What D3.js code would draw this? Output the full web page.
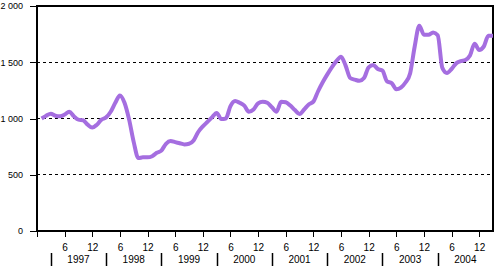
<!DOCTYPE html>
<html>
<head>
<meta charset="utf-8">
<script src="https://d3js.org/d3.v7.min.js"></script>
<style>
  body { margin: 0; background: #fff; }
  svg text { font-family: Arial, "Liberation Sans", sans-serif; font-size: 10px; fill: #000; }
  .axis path, .axis line { stroke: #000; shape-rendering: crispEdges; }
  .yaxis text { font-size: 9px; }
</style>
</head>
<body>
<svg id="chart"></svg>
<script>
// month index: 1 = Jan 1997 ... 99 = Mar 2005
var months = d3.range(1, 100);
var values = [
  1000, 1025, 1043, 1025, 1020, 1035, 1060, 1020, 990, 985, 945, 920,
  945, 990, 1010, 1060, 1140, 1205, 1140, 990, 790, 648, 655, 655,
  665, 695, 715, 775, 800, 790, 780, 770, 775, 805, 880, 930,
  970, 1010, 1050, 995, 1000, 1110, 1155, 1140, 1115, 1060, 1080, 1135,
  1150, 1140, 1100, 1060, 1150, 1145, 1115, 1075, 1040, 1080, 1125, 1150,
  1240, 1320, 1390, 1455, 1510, 1550, 1470, 1360, 1345, 1335, 1360, 1455,
  1475, 1440, 1425, 1330, 1315, 1260, 1275, 1320, 1400, 1640, 1825, 1745,
  1745, 1765, 1740, 1450, 1405, 1440, 1490, 1510, 1520, 1560, 1665, 1610,
  1640, 1735, 1735
];
var years = ["1997", "1998", "1999", "2000", "2001", "2002", "2003", "2004"];
var yTicks = [0, 500, 1000, 1500, 2000];
var gridValues = [500, 1000, 1500];
var xTicks = d3.range(0, 97, 6);

var W = 495, H = 266;
var pLeft = 37, pRight = 493, pTop = 6, pBottom = 231;

var x = d3.scaleLinear().domain([0, 99]).range([pLeft, pRight]);
var y = d3.scaleLinear().domain([0, 2000]).range([pBottom, pTop]);

var loc = d3.formatLocale({decimal: ",", thousands: " ", grouping: [3], currency: ["", ""]});
var fmt = loc.format(",");

var svg = d3.select("#chart").attr("width", W).attr("height", H);

// dashed gridlines
svg.selectAll(".grid")
   .data(gridValues)
   .enter().append("line")
   .attr("class", "grid")
   .attr("x1", pLeft).attr("x2", pRight)
   .attr("y1", function(d) { return y(d); })
   .attr("y2", function(d) { return y(d); })
   .attr("stroke", "#000")
   .attr("stroke-dasharray", "3,3")
   .style("shape-rendering", "crispEdges");

// frame
svg.append("rect")
   .attr("x", pLeft).attr("y", pTop)
   .attr("width", pRight - pLeft).attr("height", pBottom - pTop)
   .attr("fill", "none").attr("stroke", "#000").attr("stroke-width", 1.5)
   .style("shape-rendering", "crispEdges");

// y axis
var yAxis = svg.append("g")
   .attr("class", "axis yaxis")
   .attr("transform", "translate(" + pLeft + ",0)")
   .call(d3.axisLeft(y).tickValues(yTicks).tickSize(7).tickSizeOuter(0).tickPadding(7).tickFormat(fmt));
yAxis.select(".domain").remove();

// x axis
var xAxis = svg.append("g")
   .attr("class", "axis")
   .attr("transform", "translate(0," + pBottom + ")")
   .call(d3.axisBottom(x).tickValues(xTicks).tickSize(6).tickSizeOuter(0).tickPadding(7)
     .tickFormat(function(m) { return m === 0 ? "" : (m % 12 === 0 ? "12" : "6"); }));
xAxis.select(".domain").remove();
svg.selectAll(".axis").attr("font-family", null).attr("font-size", null);

// year labels and separators
svg.selectAll(".year")
   .data(years)
   .enter().append("text")
   .attr("class", "year")
   .attr("x", function(d, i) { return x(9 + 12 * i); })
   .attr("y", 263)
   .attr("text-anchor", "middle")
   .text(function(d) { return d; });

svg.selectAll(".sep")
   .data(years)
   .enter().append("line")
   .attr("class", "sep")
   .attr("x1", function(d, i) { return Math.round(x(3 + 12 * i)) + 0.5; })
   .attr("x2", function(d, i) { return Math.round(x(3 + 12 * i)) + 0.5; })
   .attr("y1", 253).attr("y2", 266)
   .attr("stroke", "#000").attr("stroke-width", 1.5);

// series line
var line = d3.line()
   .x(function(d, i) { return x(months[i]); })
   .y(function(d) { return y(d); })
   .curve(d3.curveMonotoneX);

svg.append("path")
   .datum(values)
   .attr("fill", "none")
   .attr("stroke", "#a56ee0")
   .attr("stroke-width", 4)
   .attr("stroke-linejoin", "round")
   .attr("d", line);
</script>
</body>
</html>
